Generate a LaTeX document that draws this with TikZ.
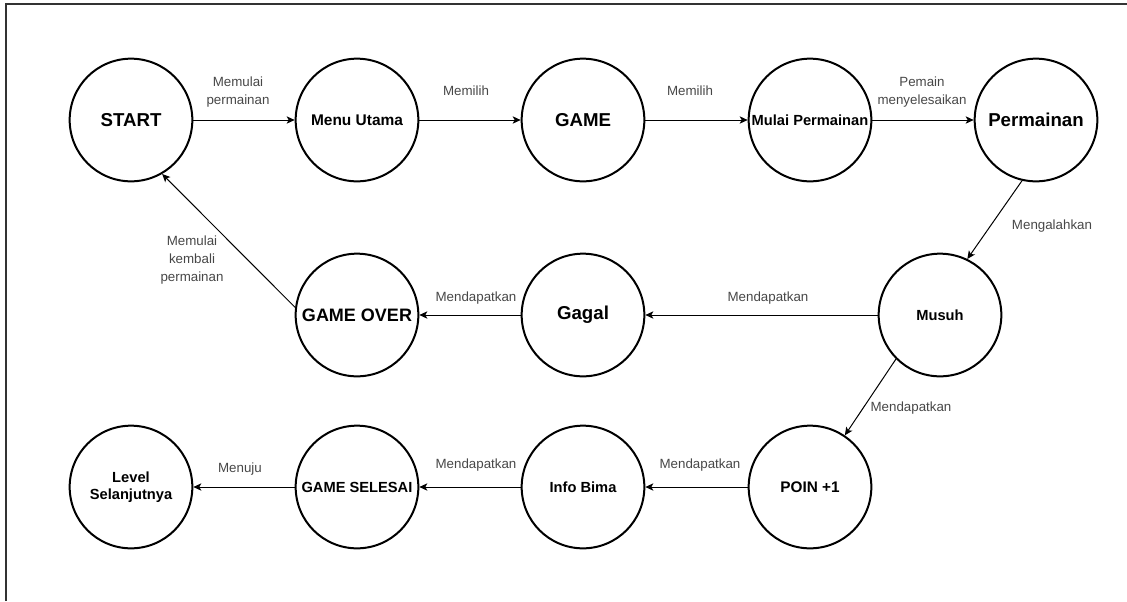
\documentclass[tikz,border=0pt]{standalone}
\usepackage{fontspec}
\setmainfont{Liberation Sans}
\usetikzlibrary{arrows.meta}

\begin{document}
\begin{tikzpicture}[
    x=0.75pt, y=-0.75pt,
    state/.style={circle, draw=black, line width=1.5pt, minimum size=92pt, inner sep=0pt, align=center, font=\bfseries\fontsize{11}{13}\selectfont},
    bigstate/.style={state, font=\bfseries\fontsize{14}{16}\selectfont},
    lbl/.style={text=black!72, align=center, inner sep=1pt, font=\fontsize{10}{13.5}\selectfont},
    arr/.style={draw=black, line width=0.75pt, -{Stealth[length=6pt, width=5.5pt, inset=1.5pt]}},
    frame/.style={draw=black!80, line width=1.5pt}
  ]
    \useasboundingbox (0,0) rectangle (1127,601);
    % Bingkai
    \draw[frame] (6,601) -- (6,4) -- (1127,4);

    % Baris atas
    \node[bigstate] (start) at (131, 120) {START};
    \node[state, font=\bfseries\fontsize{11.6}{13}\selectfont] (menu) at (357, 120) {Menu Utama};
    \node[bigstate] (game) at (583, 120) {GAME};
    \node[state] (mulai) at (810, 120) {Mulai Permainan};
    \node[bigstate] (permainan) at (1036, 120) {Permainan};

    % Baris tengah
    \node[state, font=\bfseries\fontsize{13.5}{15}\selectfont] (gameover) at (357, 315) {GAME OVER};
    \node[bigstate] (gagal) at (583, 315) {Gagal};
    \node[state] (musuh) at (940, 315) {Musuh};

    % Baris bawah
    \node[state] (level) at (131, 487) {Level\\Selanjutnya};
    \node[state] (selesai) at (357, 487) {GAME SELESAI};
    \node[state] (info) at (583, 487) {Info Bima};
    \node[state, font=\bfseries\fontsize{11.5}{13}\selectfont] (poin) at (810, 487) {POIN +1};

    % Transisi
    \draw[arr] (start) -- (menu);
    \draw[arr] (menu) -- (game);
    \draw[arr] (game) -- (mulai);
    \draw[arr] (mulai) -- (permainan);
    \draw[arr] (permainan.-103) -- (musuh.64);
    \draw[arr] (musuh) -- (gagal);
    \draw[arr] (gagal) -- (gameover);
    \draw[arr] (gameover.173) -- (start.-60);
    \draw[arr] (musuh.-135) -- (poin.56);
    \draw[arr] (poin) -- (info);
    \draw[arr] (info) -- (selesai);
    \draw[arr] (selesai) -- (level);

    % Label transisi
    \node[lbl] (l1) at (238, 92) {Memulai\\permainan};
    \node[lbl] (l2) at (466, 91) {Memilih};
    \node[lbl] (l3) at (690, 91) {Memilih};
    \node[lbl] (l4) at (922, 92) {Pemain\\menyelesaikan};
    \node[lbl] (l5) at (1052, 226) {Mengalahkan};
    \node[lbl] (l6) at (768, 298) {Mendapatkan};
    \node[lbl] (l7) at (476, 298) {Mendapatkan};
    \node[lbl] (l8) at (192, 260) {Memulai\\kembali\\permainan};
    \node[lbl] (l9) at (911, 408) {Mendapatkan};
    \node[lbl] (l10) at (700, 465) {Mendapatkan};
    \node[lbl] (l11) at (476, 465) {Mendapatkan};
    \node[lbl] (l12) at (240, 469) {Menuju};
\end{tikzpicture}
\end{document}
